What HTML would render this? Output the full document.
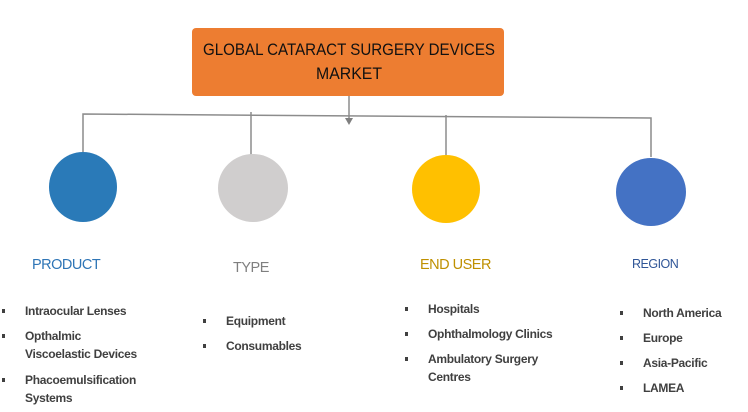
<!DOCTYPE html>
<html><head><meta charset="utf-8"><style>
body{margin:0;width:748px;height:412px;background:#fff;position:relative;overflow:hidden;font-family:"Liberation Sans",sans-serif}
.t{position:absolute;font-size:12px;font-weight:bold;color:#404040;line-height:18px;white-space:nowrap;letter-spacing:-0.3px}
.b{position:absolute;width:3px;height:4px;background:#404040}
.h{position:absolute;font-size:14.5px;letter-spacing:-0.5px;white-space:nowrap}
</style></head><body>
<svg width="748" height="412" style="position:absolute;left:0;top:0">
<rect x="192" y="28" width="312" height="68" rx="4" fill="#ed7d31"/>
<g stroke="#8c8c8c" stroke-width="1.5" fill="none">
<line x1="349" y1="96" x2="349" y2="120"/>
<polyline points="83,152 83,114 651,118 651,157"/>
<line x1="251" y1="112" x2="251" y2="155"/>
<line x1="446" y1="115" x2="446" y2="155"/>
</g>
<polygon points="345,118 353,118 349,125" fill="#7f7f7f"/>
<ellipse cx="81" cy="187" rx="24" ry="34" fill="#2a7ab8" transform="translate(-0 0)"/>
<ellipse cx="83" cy="187" rx="34" ry="35" fill="#2a7ab8"/>
<ellipse cx="253" cy="188" rx="35" ry="34" fill="#d0cece"/>
<ellipse cx="446" cy="189" rx="34" ry="34" fill="#ffc000"/>
<ellipse cx="651" cy="192" rx="35" ry="34" fill="#4472c4"/>
<text x="349" y="55" text-anchor="middle" font-family="Liberation Sans" font-size="17" fill="#111" textLength="292" lengthAdjust="spacingAndGlyphs">GLOBAL CATARACT SURGERY DEVICES</text>
<text x="349" y="79" text-anchor="middle" font-family="Liberation Sans" font-size="17" fill="#111" textLength="66" lengthAdjust="spacingAndGlyphs">MARKET</text>
</svg>
<div class="h" style="left:32px;top:257px;color:#2e75b6">PRODUCT</div>
<div class="h" style="left:233px;top:260px;color:#7f7f7f">TYPE</div>
<div class="h" style="left:420px;top:257px;color:#bf9000">END USER</div>
<div class="h" style="left:632px;top:257px;color:#2f5597;font-size:12.5px">REGION</div>

<div class="b" style="left:2px;top:309px"></div><div class="t" style="left:25px;top:302px">Intraocular Lenses</div>
<div class="b" style="left:2px;top:334px"></div><div class="t" style="left:25px;top:327px">Opthalmic<br>Viscoelastic Devices</div>
<div class="b" style="left:2px;top:378px"></div><div class="t" style="left:25px;top:371px">Phacoemulsification<br>Systems</div>

<div class="b" style="left:203px;top:319px"></div><div class="t" style="left:226px;top:312px">Equipment</div>
<div class="b" style="left:203px;top:344px"></div><div class="t" style="left:226px;top:337px">Consumables</div>

<div class="b" style="left:405px;top:307px"></div><div class="t" style="left:428px;top:300px">Hospitals</div>
<div class="b" style="left:405px;top:332px"></div><div class="t" style="left:428px;top:325px">Ophthalmology Clinics</div>
<div class="b" style="left:405px;top:357px"></div><div class="t" style="left:428px;top:350px">Ambulatory Surgery<br>Centres</div>

<div class="b" style="left:620px;top:311px"></div><div class="t" style="left:643px;top:304px">North America</div>
<div class="b" style="left:620px;top:336px"></div><div class="t" style="left:643px;top:329px">Europe</div>
<div class="b" style="left:620px;top:361px"></div><div class="t" style="left:643px;top:354px">Asia-Pacific</div>
<div class="b" style="left:620px;top:386px"></div><div class="t" style="left:643px;top:379px">LAMEA</div>
</body></html>
